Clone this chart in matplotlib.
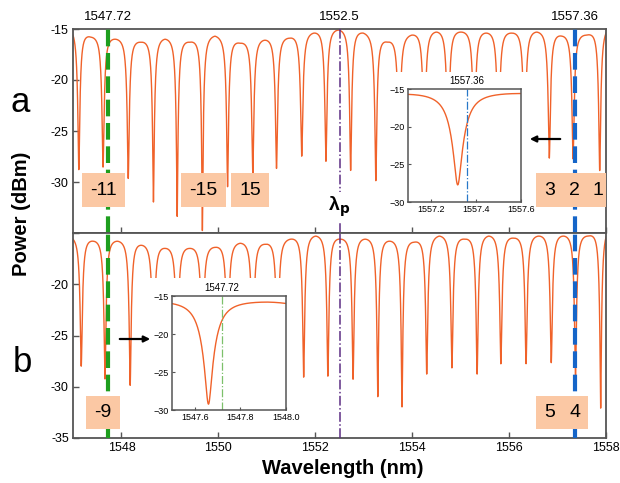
import matplotlib.pyplot as plt
import numpy as np
from matplotlib.patches import Rectangle, FancyArrowPatch

plt.rcParams['font.family'] = ['Liberation Sans', 'DejaVu Sans']

# ---- values ----
# panel a: dip centres (nm) and dip floor (dBm)
dip_wl_a = [1547.12, 1547.62, 1548.14, 1548.66, 1549.15, 1549.67, 1550.19, 1550.71,
            1551.20, 1551.72, 1552.22, 1552.73, 1553.25, 1553.73, 1554.25, 1554.74,
            1555.28, 1555.78, 1556.32, 1556.83, 1557.32, 1557.87]
dip_db_a = [-28.7, -28.4, -29.5, -31.8, -33.2, -34.6, -30.3, -29.1,
            -28.5, -27.3, -27.8, -28.7, -29.7, -29.0, -29.0, -29.0,
            -29.0, -29.0, -29.0, -27.5, -27.6, -28.8]
# panel a: top of the arches between dips
peak_wl_a = [1547.0, 1547.37, 1547.88, 1548.40, 1548.90, 1549.41, 1549.93, 1550.45,
             1550.95, 1551.46, 1551.97, 1552.48, 1552.99, 1553.49, 1553.99, 1554.50,
             1555.01, 1555.53, 1556.05, 1556.57, 1557.09, 1557.60, 1558.0]
peak_db_a = [-15.6, -15.8, -16.0, -16.3, -16.0, -16.3, -15.7, -16.4,
             -16.1, -15.9, -15.4, -15.1, -15.4, -16.3, -15.6, -15.3,
             -15.3, -15.4, -15.4, -15.3, -15.7, -15.6, -15.4]

# panel b
dip_wl_b = [1547.17, 1547.66, 1548.18, 1548.66, 1549.15, 1549.67, 1550.19, 1550.71,
            1551.22, 1551.76, 1552.26, 1552.78, 1553.29, 1553.79, 1554.30, 1554.82,
            1555.34, 1555.83, 1556.35, 1556.87, 1557.37, 1557.89]
dip_db_b = [-27.9, -29.1, -29.7, -29.0, -29.0, -29.0, -29.0, -29.0,
            -29.0, -28.9, -28.8, -29.1, -30.8, -31.8, -28.6, -28.0,
            -28.6, -27.6, -27.6, -27.5, -29.0, -32.0]
peak_wl_b = [1547.0, 1547.42, 1547.92, 1548.42, 1548.90, 1549.41, 1549.93, 1550.45,
             1550.96, 1551.49, 1552.01, 1552.52, 1553.03, 1553.54, 1554.04, 1554.56,
             1555.08, 1555.58, 1556.09, 1556.61, 1557.12, 1557.63, 1558.0]
peak_db_b = [-15.6, -15.8, -15.8, -16.2, -16.5, -16.5, -16.4, -16.0,
             -16.1, -15.6, -15.3, -15.6, -15.6, -15.8, -15.9, -15.3,
             -15.6, -15.3, -15.5, -15.3, -15.3, -15.3, -15.4]

# mode labels (text, centre wavelength)
modes_a = [('-11', 1547.62), ('-15', 1549.69), ('15', 1550.66),
           ('3', 1556.83), ('2', 1557.35), ('1', 1557.83)]
modes_b = [('-9', 1547.62), ('5', 1556.83), ('4', 1557.35)]

marked_wl = [1547.72, 1552.5, 1557.36]
marked_lbl = ['1547.72', '1552.5', '1557.36']

inset_ticks_a = [1557.2, 1557.4, 1557.6]
inset_ticks_b = [1547.6, 1547.8, 1548.0]

ORANGE = '#f0622a'
PEACH = '#fbc8a4'
GREEN = '#1e9e1e'
BLUE = '#1565c8'
PURPLE = '#5c2d84'
SPINE = '#555555'
HW = 0.058  # resonance half width (nm)


def spectrum(x, dwl, ddb, pwl, pdb):
    dwl = np.asarray(dwl)
    env_pk = np.asarray(pdb, dtype=float)

    def loss(xx, env_at_dips):
        a = 1 - 10 ** ((np.asarray(ddb) - env_at_dips) / 10)
        L = 1 / (1 + ((xx[:, None] - dwl[None, :]) / HW) ** 2)
        return 10 * np.log10(np.prod(1 - a[None, :] * L, axis=1))

    env_d = np.interp(dwl, pwl, env_pk)
    # lift the envelope so the arch tops land on the read values
    env_pk = env_pk - loss(np.asarray(pwl, float), env_d)
    env_d = np.interp(dwl, pwl, env_pk)
    return np.interp(x, pwl, env_pk) + loss(x, env_d)


x = np.arange(1547.0, 1558.0005, 0.002)
y_a = spectrum(x, dip_wl_a, dip_db_a, peak_wl_a, peak_db_a)
y_b = spectrum(x, dip_wl_b, dip_db_b, peak_wl_b, peak_db_b)

W, H = 620, 483
fig = plt.figure(figsize=(W / 100, H / 100), dpi=100)


def fbox(x0, y0, x1, y1):
    return [x0 / W, 1 - y1 / H, (x1 - x0) / W, (y1 - y0) / H]


ax_a = fig.add_axes(fbox(73, 29, 606, 233))
ax_b = fig.add_axes(fbox(73, 233, 606, 438))

for ax, y in ((ax_a, y_a), (ax_b, y_b)):
    ax.plot(x, y, color=ORANGE, lw=1.0, zorder=2)
    ax.set_xlim(1547, 1558)
    ax.set_ylim(-35, -15)
    ax.set_xticks([1548, 1550, 1552, 1554, 1556, 1558])
    ax.set_yticks([-15, -20, -25, -30, -35])
    ax.tick_params(direction='in', length=4, width=1, color=SPINE, labelsize=9, pad=3)
    for s in ax.spines.values():
        s.set_color(SPINE)
        s.set_linewidth(1.3)
    ax.axvline(1547.72, color=GREEN, lw=3, ls=(0, (4, 1.6)), zorder=3)
    ax.axvline(1557.36, color=BLUE, lw=3, ls=(0, (4, 1.6)), zorder=3)
    ax.axvline(1552.5, color=PURPLE, lw=1.1, ls='-.', zorder=3)

ax_a.tick_params(labelbottom=False)
ax_a.set_yticklabels(['-15', '-20', '-25', '-30', ''])
ax_b.set_yticklabels(['', '-20', '-25', '-30', '-35'])

sec = ax_a.secondary_xaxis('top')
sec.set_xticks(marked_wl, marked_lbl)
sec.tick_params(length=0, labelsize=9.5, pad=4)
sec.spines['top'].set_visible(False)

# white areas behind the insets
ax_a.add_patch(Rectangle((385 / W, 1 - 212 / H), 145 / W, 140 / H,
                         transform=fig.transFigure, facecolor='white',
                         edgecolor='none', zorder=4))
ax_b.add_patch(Rectangle((140 / W, 1 - 425 / H), 152 / W, 147 / H,
                         transform=fig.transFigure, facecolor='white',
                         edgecolor='none', zorder=4))

# mode number boxes
for ax, modes, yc in ((ax_a, modes_a, -30.8), (ax_b, modes_b, -32.5)):
    for t, wl in modes:
        ax.text(wl, yc, t, ha='center', va='center', fontsize=14, zorder=5,
                bbox=dict(boxstyle='square,pad=0.42', fc=PEACH, ec='none'),
                clip_on=True)

ax_a.text(1552.5, -32.4, 'λ$_\\mathbf{p}$', ha='center', va='center',
          fontsize=14, fontweight='bold', zorder=5,
          bbox=dict(boxstyle='square,pad=0.1', fc='white', ec='none'))


def inset(box, y, xlim, xt, mark, color):
    ins = fig.add_axes(fbox(*box))
    ins.plot(x, y, color=ORANGE, lw=1.0)
    ins.set_xlim(*xlim)
    ins.set_ylim(-30, -15)
    ins.set_xticks(xt, [f'{v:.1f}' for v in xt])
    ins.set_yticks([-15, -20, -25, -30])
    ins.axvline(mark, color=color, lw=0.9, ls='-.')
    ins.tick_params(direction='in', length=2.5, width=0.8, color=SPINE,
                    labelsize=6.5, pad=2)
    for s in ins.spines.values():
        s.set_color(SPINE)
        s.set_linewidth(1.1)
    top = ins.secondary_xaxis('top')
    top.set_xticks([mark], [f'{mark:.2f}'])
    top.tick_params(length=0, labelsize=7, pad=2)
    top.spines['top'].set_visible(False)
    return ins


inset((408, 89, 521, 202), y_a, (1557.1, 1557.6), inset_ticks_a, 1557.36, '#2878c8')
inset((172, 296, 286, 410), y_b, (1547.5, 1548.0), inset_ticks_b, 1547.72, '#7cc06a')

# arrows
for p0, p1 in (((563, 139), (527, 139)), ((117, 339), (153, 339))):
    fig.add_artist(FancyArrowPatch(
        (p0[0] / W, 1 - p0[1] / H), (p1[0] / W, 1 - p1[1] / H),
        transform=fig.transFigure, arrowstyle='-|>', mutation_scale=9,
        lw=1.6, color='black', zorder=10))

fig.text(20 / W, 1 - 103 / H, 'a', fontsize=25, ha='center', va='center')
fig.text(22 / W, 1 - 363 / H, 'b', fontsize=25, ha='center', va='center')
fig.text(22 / W, 1 - 214 / H, 'Power (dBm)', rotation=90, fontsize=14.5,
         fontweight='bold', ha='center', va='center')
fig.text(343 / W, 1 - 468 / H, 'Wavelength (nm)', fontsize=14.5,
         fontweight='bold', ha='center', va='center')

fig.savefig('out.png', dpi=100)
